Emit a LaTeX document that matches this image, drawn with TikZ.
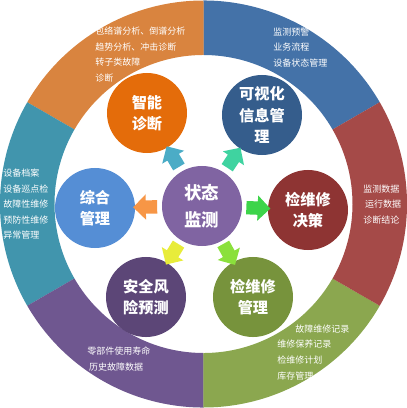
\documentclass[tikz,border=0pt]{standalone}
\usepackage{fontspec}
\usepackage{tikz}
\usetikzlibrary{shapes.arrows}
\newfontfamily\cjk{Noto Sans CJK SC}

\definecolor{bandblue}{HTML}{4472A8}
\definecolor{bandorange}{HTML}{D9843F}
\definecolor{bandteal}{HTML}{4195AD}
\definecolor{bandpurple}{HTML}{6F5790}
\definecolor{bandgreen}{HTML}{8BA74F}
\definecolor{bandred}{HTML}{A54A48}

\begin{document}
\begin{tikzpicture}[x=0.025cm, y=0.025cm,
    hub/.style = {circle, minimum size=2cm, inner sep=0pt, text=white, align=center, font=\cjk\bfseries\fontsize{10.8}{15}\selectfont},
    note/.style = {anchor=north west, inner sep=0pt, text=white, align=left, font=\cjk\fontsize{6.4}{11.1}\selectfont},
    blk/.style = {single arrow, draw=none, minimum height=0.6cm, single arrow head extend=0.15cm, inner sep=0.16cm, sloped, allow upside down, pos=0.5}]

\useasboundingbox (-203.5,-204) rectangle (203.5,204);

% outer ring
\fill[bandblue] (30:203.5) arc[start angle=30, end angle=90, radius=5.0875cm] -- (90:149) arc[start angle=90, end angle=30, radius=3.725cm] -- cycle;
\fill[bandorange] (90:203.5) arc[start angle=90, end angle=150, radius=5.0875cm] -- (150:149) arc[start angle=150, end angle=90, radius=3.725cm] -- cycle;
\fill[bandteal] (150:203.5) arc[start angle=150, end angle=210, radius=5.0875cm] -- (210:149) arc[start angle=210, end angle=150, radius=3.725cm] -- cycle;
\fill[bandpurple] (210:203.5) arc[start angle=210, end angle=270, radius=5.0875cm] -- (270:149) arc[start angle=270, end angle=210, radius=3.725cm] -- cycle;
\fill[bandgreen] (270:203.5) arc[start angle=270, end angle=330, radius=5.0875cm] -- (330:149) arc[start angle=330, end angle=270, radius=3.725cm] -- cycle;
\fill[bandred] (330:203.5) arc[start angle=330, end angle=390, radius=5.0875cm] -- (30:149) arc[start angle=390, end angle=330, radius=3.725cm] -- cycle;

% ring texts
\node[note] (tOrange) at (-108.5,177.5) {包络谱分析、倒谱分析\\趋势分析、冲击诊断\\转子类故障\\诊断};
\node[note] (tBlue) at (69.5,176.5) {监测预警\\业务流程\\设备状态管理};
\node[note] (tRed) at (159.5,19.5) {监测数据\\\hspace*{0.2em}运行数据\\诊断结论};
\node[note] (tTeal) at (-200.5,35.5) {设备档案\\设备巡点检\\故障性维修\\预防性维修\\异常管理};
\node[note] (tPurple) at (-116.5,-142.5) {零部件使用寿命\\\hspace*{0.2em}历史故障数据};
\node[note] (tGreen) at (73.5,-120.5) {\hspace*{2em}故障维修记录\\维修保养记录\\检维修计划\\库存管理};

% circles
\node[hub, fill={rgb,255:red,128;green,100;blue,162}, font=\cjk\bfseries\fontsize{12.4}{19}\selectfont] (sm) at (-1.5,-2) {状态\\监测};
\node[hub, fill={rgb,255:red,228;green,108;blue,10}] (zn) at (-56.5,91) {智能\\诊断};
\node[hub, fill={rgb,255:red,53;green,93;blue,140}] (ks) at (58.5,89) {可视化\\信息管\\理};
\node[hub, fill={rgb,255:red,142;green,52;blue,51}] (jc) at (104.5,-6) {检维修\\决策};
\node[hub, fill={rgb,255:red,119;green,147;blue,60}] (jg) at (49.5,-93) {检维修\\管理};
\node[hub, fill={rgb,255:red,92;green,70;blue,119}] (aq) at (-57.5,-93) {安全风\\险预测};
\node[hub, fill={rgb,255:red,85;green,142;blue,213}] (zh) at (-108.5,-4) {综合\\管理};

% block arrows
\path (sm) -- node[blk, fill={rgb,255:red,75;green,172;blue,198}] (a1) {} (zn);
\path (sm) -- node[blk, fill={rgb,255:red,63;green,211;blue,160}] (a2) {} (ks);
\path (sm) -- node[blk, fill={rgb,255:red,61;green,212;blue,74}] (a3) {} (jc);
\path (sm) -- node[blk, fill={rgb,255:red,139;green,224;blue,60}] (a4) {} (jg);
\path (sm) -- node[blk, fill={rgb,255:red,232;green,236;blue,58}] (a5) {} (aq);
\path (sm) -- node[blk, fill={rgb,255:red,247;green,150;blue,70}] (a6) {} (zh);
\end{tikzpicture}
\end{document}
